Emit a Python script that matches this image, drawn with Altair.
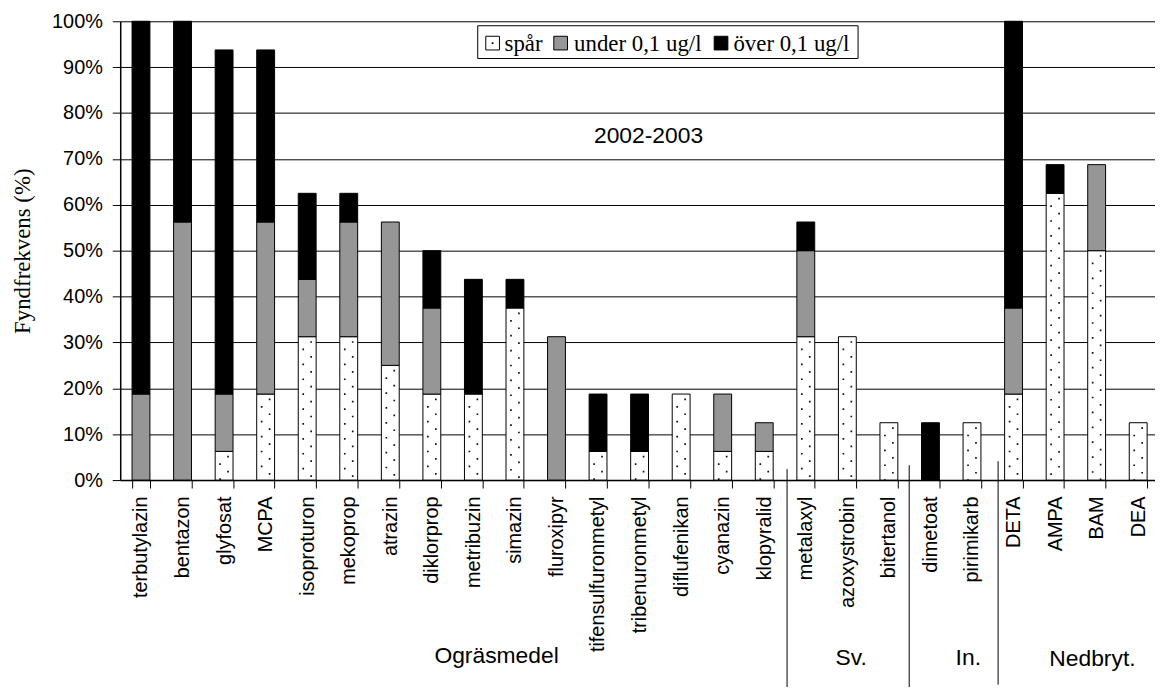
import altair as alt
import pandas as pd

categories = ["terbutylazin", "bentazon", "glyfosat", "MCPA", "isoproturon", "mekoprop",
              "atrazin", "diklorprop", "metribuzin", "simazin", "fluroxipyr",
              "tifensulfuronmetyl", "tribenuronmetyl", "diflufenikan", "cyanazin",
              "klopyralid", "metalaxyl", "azoxystrobin", "bitertanol", "dimetoat",
              "pirimikarb", "DETA", "AMPA", "BAM", "DEA"]
spar = [0, 0, 6.25, 18.75, 31.25, 31.25, 25, 18.75, 18.75, 37.5, 0, 6.25, 6.25,
        18.75, 6.25, 6.25, 31.25, 31.25, 12.5, 0, 12.5, 18.75, 62.5, 50, 12.5]
under = [18.75, 56.25, 12.5, 37.5, 12.5, 25, 31.25, 18.75, 0, 0, 31.25, 0, 0,
         0, 12.5, 6.25, 18.75, 0, 0, 0, 0, 18.75, 0, 18.75, 0]
over = [81.25, 43.75, 75, 37.5, 18.75, 6.25, 0, 12.5, 25, 6.25, 0, 12.5, 12.5,
        0, 0, 0, 6.25, 0, 0, 12.5, 0, 62.5, 6.25, 0, 0]
series = ["spår", "under 0,1 ug/l", "över 0,1 ug/l"]
series_colors = ["#ffffff", "#969696", "#000000"]
group_labels = ["Ogräsmedel", "Sv.", "In.", "Nedbryt."]
annotation = "2002-2003"
y_title = "Fyndfrekvens (%)"
y_ticks = [0, 10, 20, 30, 40, 50, 60, 70, 80, 90, 100]

SANS = "Liberation Sans, Arial, sans-serif"
SERIF = "Liberation Serif, Times New Roman, serif"

rows = []
for i, c in enumerate(categories):
    for k, (s, vals) in enumerate(zip(series, [spar, under, over])):
        if vals[i] > 0:
            rows.append({"cat": c, "series": s, "value": vals[i], "order": k})
df = pd.DataFrame(rows)
df_spar = pd.DataFrame({"cat": categories, "spar": spar})
df_spar = df_spar[df_spar["spar"] > 0]

x_scale = alt.Scale(domain=categories, paddingInner=0.57, paddingOuter=0.285)
x_axis = alt.Axis(title=None, labelAngle=270, labelFont=SANS, labelFontSize=20,
                  labelColor="black", labelPadding=8, tickSize=8, tickColor="black",
                  tickBand="extent", domainColor="black", domainWidth=1.5,
                  labelOverlap=False, labelLimit=300, grid=False)
y_scale = alt.Scale(domain=[0, 100], nice=False)
y_axis = alt.Axis(title=y_title, values=y_ticks, labelExpr="datum.value + '%'",
                  labelFont=SANS, labelFontSize=20, labelColor="black",
                  labelPadding=10, tickSize=8, tickColor="black",
                  domainColor="black", domainWidth=1.5, grid=True,
                  gridColor="black", gridWidth=1, gridOpacity=1,
                  titleFont=SERIF, titleFontSize=23, titleFontWeight="normal",
                  titleColor="black", titleX=-98, titleY=231, titleAngle=270,
                  titleBaseline="middle", titleAlign="center")

x_enc = alt.X("cat:N", scale=x_scale, axis=x_axis, sort=categories)

bars = alt.Chart(df).mark_bar(stroke="black", strokeWidth=1).encode(
    x=x_enc,
    y=alt.Y("value:Q", stack="zero", scale=y_scale, axis=y_axis),
    color=alt.Color("series:N", scale=alt.Scale(domain=series, range=series_colors),
                    legend=None),
    order=alt.Order("order:Q"),
)

# dotted pattern of the "spår" segments
dots = []
for off, dash_off in [(-4, 3), (4, 10.5)]:
    dots.append(
        alt.Chart(df_spar).mark_rule(xOffset=off, strokeDash=[1.7, 13.3],
                                     strokeDashOffset=dash_off, color="#111111",
                                     strokeWidth=1.7).encode(
            x=x_enc,
            y=alt.Y("spar:Q", scale=y_scale, axis=y_axis),
            y2=alt.datum(0),
        )
    )

# legend drawn as a framed box inside the plot
one = pd.DataFrame({"a": [0]})
legend_layers = [
    alt.Chart(one).mark_rect(fill="white", stroke="black", strokeWidth=1).encode(
        x=alt.value(360), x2=alt.value(743), y=alt.value(4.5), y2=alt.value(37.5))
]
sym_x = [375, 443.5, 605]
txt_x = [387, 457, 617.5]
for s, col, sx, tx in zip(series, series_colors, sym_x, txt_x):
    legend_layers.append(
        alt.Chart(pd.DataFrame({"s": [s]})).mark_square(
            size=190, fill=col, stroke="black", strokeWidth=1, opacity=1).encode(
            x=alt.value(sx), y=alt.value(22)))
    legend_layers.append(
        alt.Chart(pd.DataFrame({"s": [s]})).mark_text(
            font=SERIF, fontSize=23, color="black", align="left",
            baseline="alphabetic").encode(
            text="s:N", x=alt.value(tx), y=alt.value(29.5)))
legend_layers.append(
    alt.Chart(one).mark_square(size=3, color="black", opacity=1).encode(
        x=alt.value(sym_x[0]), y=alt.value(22)))

ann = alt.Chart(pd.DataFrame({"t": [annotation]})).mark_text(
    font=SANS, fontSize=23, color="black", align="center", baseline="middle").encode(
    text="t:N", x=alt.value(532), y=alt.value(116))

group_pos = [(379, 639), (736, 641), (854, 641), (979, 642)]
groups = []
for lab, (gx, gy) in zip(group_labels, group_pos):
    groups.append(alt.Chart(pd.DataFrame({"t": [lab]})).mark_text(
        font=SANS, fontSize=23, color="black", align="center", baseline="middle").encode(
        text="t:N", x=alt.value(gx), y=alt.value(gy)))

sep_pos = [(671.5, 451, 671), (794.5, 447, 671), (884, 443, 668)]
seps = []
for sx, sy, sy2 in sep_pos:
    seps.append(alt.Chart(one).mark_rule(color="black", strokeWidth=1).encode(
        x=alt.value(sx), y=alt.value(sy), y2=alt.value(sy2)))

chart = alt.layer(bars, *dots, *legend_layers, ann, *groups, *seps).properties(
    width=1046, height=462,
    padding={"left": 113, "top": 11, "right": -4, "bottom": 206},
    autosize=alt.AutoSizeParams(type="none"),
    background="white",
).configure_view(stroke=None)

chart.save("out.html", embed_options={"renderer": "svg", "actions": False})
